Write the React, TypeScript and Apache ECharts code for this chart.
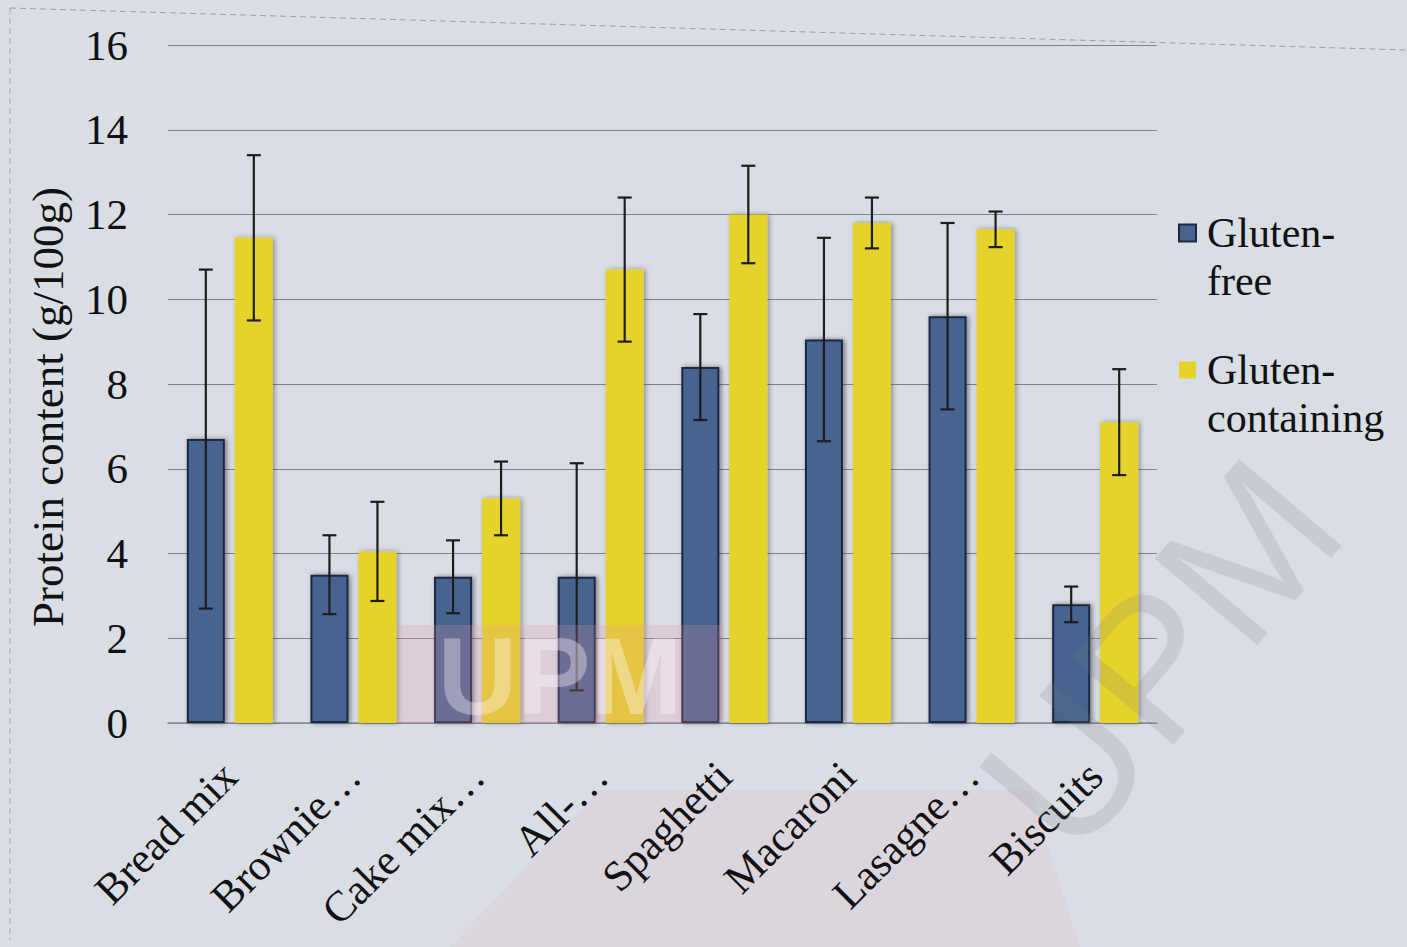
import React, { useEffect, useRef } from "react";
import * as echarts from "echarts";

// Protein content of gluten-free vs gluten-containing products (mean ± SD, g/100g)
const categories = [
  "Bread mix",
  "Brownie…",
  "Cake mix…",
  "All-…",
  "Spaghetti",
  "Macaroni",
  "Lasagne…",
  "Biscuits",
];
const glutenFree = [6.7, 3.5, 3.45, 3.45, 8.4, 9.05, 9.6, 2.8];
const glutenFreeSd = [4.0, 0.93, 0.86, 2.68, 1.25, 2.4, 2.2, 0.42];
const glutenContaining = [11.45, 4.05, 5.3, 10.7, 12.0, 11.8, 11.65, 7.1];
const glutenContainingSd = [1.95, 1.17, 0.87, 1.7, 1.15, 0.6, 0.42, 1.25];

const Y_MIN = 0;
const Y_MAX = 16;
const Y_STEP = 2;

const FONT = "'Liberation Serif', 'Times New Roman', serif";
const SANS = "'Liberation Sans', Arial, sans-serif";
const BAR_WIDTH = 38;
const BAR_GAP_PX = 10;
const BAR_OFFSET = (BAR_WIDTH + BAR_GAP_PX) / 2;

const errorSeries = (name: string, means: number[], sds: number[], dir: number) => ({
  type: "custom",
  name,
  z: 5,
  silent: true,
  encode: { x: 0, y: 1 },
  data: means.map((m, i) => [i, m, sds[i]]),
  renderItem: (_params: any, api: any) => {
    const idx = api.value(0);
    const mean = api.value(1);
    const sd = api.value(2);
    const top = api.coord([idx, mean + sd]);
    const bot = api.coord([idx, mean - sd]);
    const x = top[0] + dir * BAR_OFFSET;
    const cap = 7;
    const style = { stroke: "#1d1d1f", lineWidth: 2.2 };
    return {
      type: "group",
      children: [
        { type: "line", shape: { x1: x, y1: top[1], x2: x, y2: bot[1] }, style },
        { type: "line", shape: { x1: x - cap, y1: top[1], x2: x + cap, y2: top[1] }, style },
        { type: "line", shape: { x1: x - cap, y1: bot[1], x2: x + cap, y2: bot[1] }, style },
      ],
    };
  },
});

export default function App() {
  const ref = useRef<HTMLDivElement>(null);

  useEffect(() => {
    if (!ref.current) return;
    const chart = echarts.init(ref.current, undefined, { renderer: "svg" });
    chart.setOption({
      animation: false,
      backgroundColor: "transparent",
      grid: { left: 168, right: 250, top: 45, bottom: 224, containLabel: false },
      legend: {
        orient: "vertical",
        left: 1178,
        top: 161,
        padding: 0,
        itemGap: -7,
        itemWidth: 17,
        itemHeight: 17,
        icon: "rect",
        data: ["Gluten-free", "Gluten-containing"],
        // leading blank line keeps the first text line level with the swatch
        formatter: (name: string) => "\n" + name.replace("-", "-\n"),
        textStyle: {
          fontFamily: FONT,
          fontSize: 42,
          lineHeight: 48,
          color: "#111",
          padding: [0, 0, 0, 6],
        },
      },
      xAxis: {
        type: "category",
        data: categories,
        axisLine: { show: true, lineStyle: { color: "#8a8d94", width: 1.5 } },
        axisTick: { show: false },
        axisLabel: {
          rotate: 45,
          interval: 0,
          margin: 46,
          fontFamily: FONT,
          fontSize: 43,
          color: "#111",
        },
      },
      yAxis: {
        type: "value",
        min: Y_MIN,
        max: Y_MAX,
        interval: Y_STEP,
        name: "Protein content (g/100g)",
        nameLocation: "middle",
        nameGap: 98,
        nameTextStyle: {
          fontFamily: FONT,
          fontSize: 45,
          color: "#111",
          padding: [0, 46, 0, 0],
        },
        axisLine: { show: false },
        axisTick: { show: false },
        axisLabel: { margin: 40, fontFamily: FONT, fontSize: 43, color: "#111" },
        splitLine: { lineStyle: { color: "#7f828a", width: 1.2 } },
      },
      series: [
        {
          type: "bar",
          name: "Gluten-free",
          data: glutenFree,
          barWidth: BAR_WIDTH,
          barGap: `${(BAR_GAP_PX / BAR_WIDTH) * 100}%`,
          itemStyle: {
            color: "#46648f",
            borderColor: "#1c2645",
            borderWidth: 2,
            shadowBlur: 5,
            shadowColor: "rgba(0,0,0,0.45)",
            shadowOffsetX: 2,
          },
        },
        {
          type: "bar",
          name: "Gluten-containing",
          data: glutenContaining,
          barWidth: BAR_WIDTH,
          itemStyle: {
            color: "#e5d22a",
            shadowBlur: 5,
            shadowColor: "rgba(0,0,0,0.35)",
            shadowOffsetX: 2,
          },
        },
        errorSeries("Gluten-free SD", glutenFree, glutenFreeSd, -1),
        errorSeries("Gluten-containing SD", glutenContaining, glutenContainingSd, 1),
      ],
      graphic: [
        // frame edges of the printed figure
        {
          type: "line",
          z: -1,
          shape: { x1: 10, y1: 8, x2: 10, y2: 940 },
          style: { stroke: "#a4a7ae", lineWidth: 1, lineDash: [6, 4] },
        },
        {
          type: "line",
          z: -1,
          shape: { x1: 10, y1: 8, x2: 1407, y2: 50 },
          style: { stroke: "#9a9da4", lineWidth: 1, lineDash: [6, 4] },
        },
        // university stamp: pink emblem below the axis
        {
          type: "polygon",
          z: -1,
          silent: true,
          shape: { points: [[450, 947], [600, 790], [1030, 790], [1080, 947]] },
          style: { fill: "rgba(236,160,180,0.12)" },
        },
        {
          type: "rect",
          z: 10,
          silent: true,
          shape: { x: 398, y: 625, width: 325, height: 98 },
          style: { fill: "rgba(236,150,170,0.22)" },
        },
        {
          type: "text",
          z: 10,
          silent: true,
          x: 560,
          y: 675,
          style: {
            text: "UPM",
            fontFamily: SANS,
            fontWeight: "bold",
            fontSize: 110,
            fill: "rgba(255,255,255,0.35)",
            align: "center",
            verticalAlign: "middle",
          },
        },
        {
          type: "text",
          z: 10,
          silent: true,
          x: 1160,
          y: 655,
          rotation: 0.87,
          style: {
            text: "UPM",
            fontFamily: SANS,
            fontSize: 195,
            fill: "rgba(120,122,130,0.18)",
            align: "center",
            verticalAlign: "middle",
          },
        },
      ],
    });
    return () => chart.dispose();
  }, []);

  return (
    <div
      style={{
        position: "fixed",
        left: 0,
        top: 0,
        width: 1407,
        height: 947,
        background: "#d9dde4",
      }}
    >
      <div ref={ref} style={{ width: 1407, height: 947 }} />
    </div>
  );
}
